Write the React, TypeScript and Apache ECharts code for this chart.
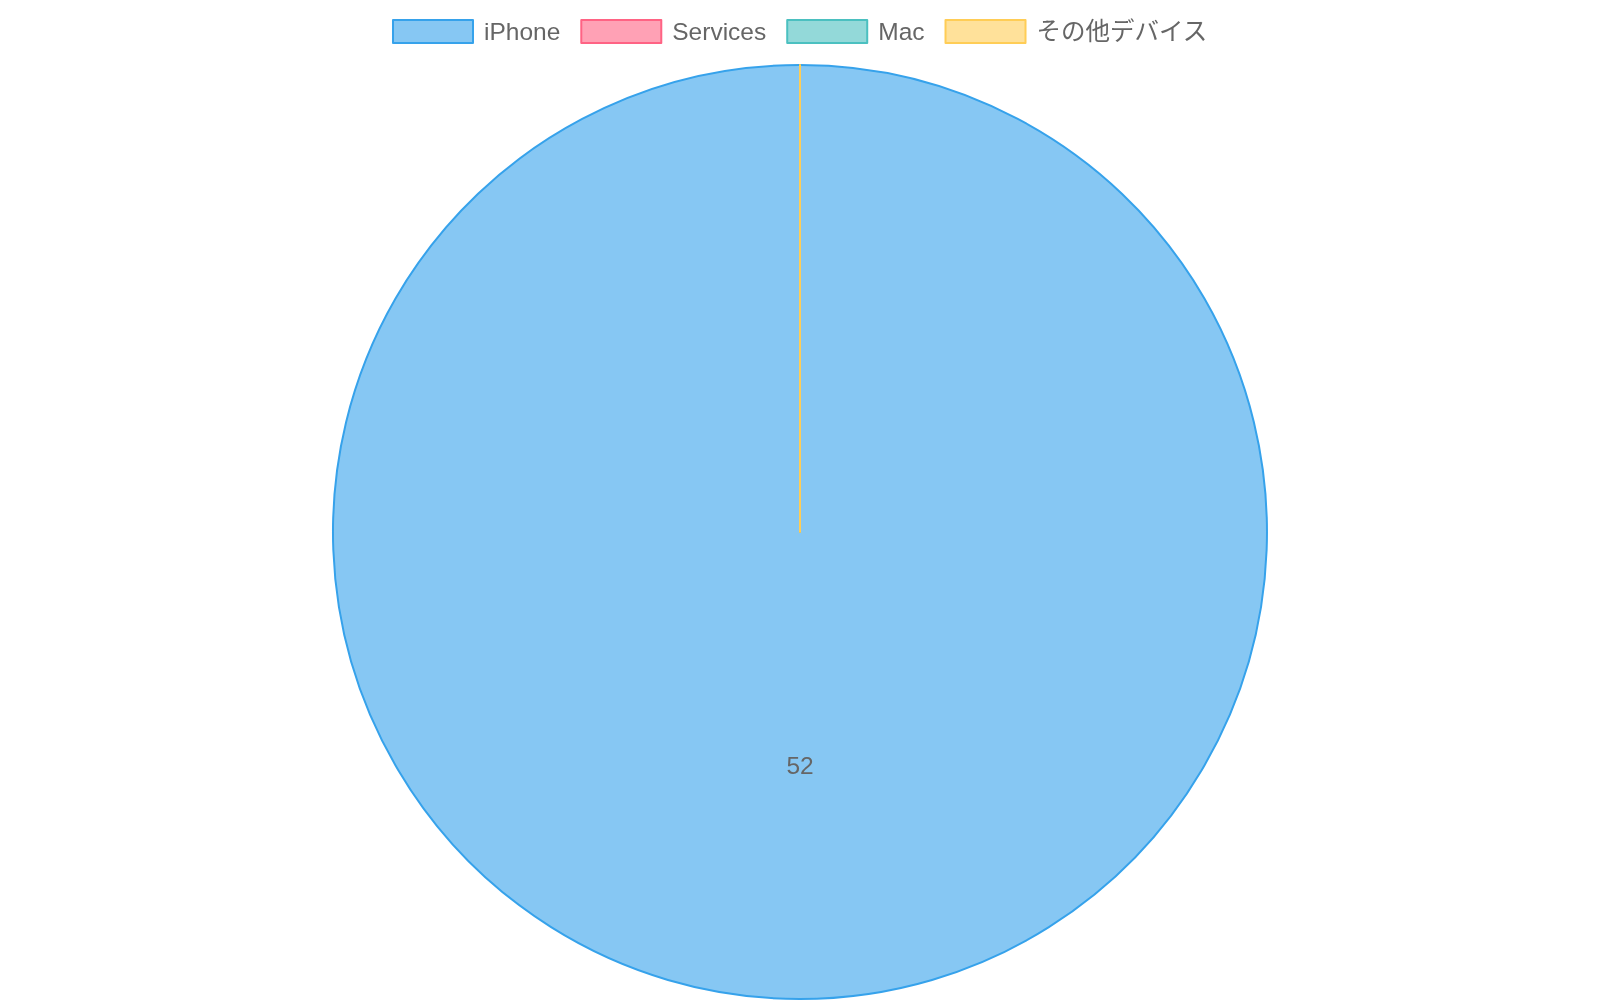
import React, { useEffect, useRef } from 'react';
import * as echarts from 'echarts';

const categories = ['iPhone', 'Services', 'Mac', 'その他デバイス'];
const values = [52, 0, 0, 0];
const fillColors = [
  'rgba(54, 162, 235, 0.6)',
  'rgba(255, 99, 132, 0.6)',
  'rgba(75, 192, 192, 0.6)',
  'rgba(255, 205, 86, 0.6)',
];
const borderColors = ['#36A2EB', '#FF6384', '#4BC0C0', '#FFCD56'];

const FONT = "'Liberation Sans', 'Noto Sans CJK JP', sans-serif";

const App: React.FC = () => {
  const chartRef = useRef<HTMLDivElement>(null);

  useEffect(() => {
    if (!chartRef.current) return;
    const chart = echarts.init(chartRef.current, undefined, { renderer: 'svg' });

    const option: echarts.EChartsOption = {
      animation: false,
      textStyle: { fontFamily: FONT },
      legend: {
        top: 6,
        left: 'center',
        itemWidth: 80,
        itemHeight: 23,
        itemGap: 20,
        icon: 'rect',
        textStyle: {
          color: '#666',
          fontSize: 24.5,
          fontFamily: FONT,
          padding: [0, 0, 0, 6],
        },
      },
      series: [
        {
          name: 'Revenue',
          type: 'pie',
          radius: [0, 467],
          center: [792, 524],
          startAngle: 90,
          clockwise: true,
          avoidLabelOverlap: false,
          label: {
            show: true,
            position: 'inside',
            formatter: '{c}',
            color: '#666',
            fontSize: 24.5,
            fontFamily: FONT,
            offset: [0, -3],
          },
          labelLine: { show: false },
          emphasis: { disabled: true },
          data: categories.map((name, i) => ({
            name,
            value: values[i],
            label: { show: values[i] > 0 },
            itemStyle: {
              color: fillColors[i],
              borderColor: borderColors[i],
              borderWidth: 2,
            },
          })),
        },
      ],
    };

    chart.setOption(option);

    const handleResize = () => {
      chart.resize();
    };
    window.addEventListener('resize', handleResize);

    return () => {
      window.removeEventListener('resize', handleResize);
      chart.dispose();
    };
  }, []);

  // fixed so the chart can reach the bottom edge without making the page scroll
  return (
    <div
      ref={chartRef}
      style={{ position: 'fixed', left: 8, top: 8, width: '1584px', height: '992px' }}
    />
  );
};

export default App;
